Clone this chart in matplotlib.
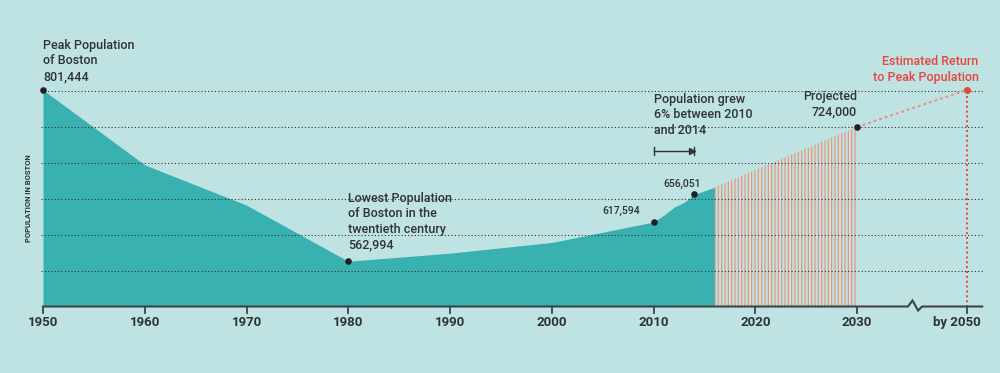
import numpy as np
import matplotlib.pyplot as plt

# population history (census + estimates)
years = [1950, 1960, 1970, 1980, 1990, 2000, 2010, 2011, 2012, 2013, 2014, 2015, 2016]
population = [801444, 697197, 641071, 562994, 574283, 589141, 617594, 627000, 638000,
              645000, 656051, 661000, 666000]

# projection segment (start of projection, projected 2030 as drawn)
proj_years = [2016, 2030]
proj_values = [666000, 750000]

# "by 2050" sits on a broken axis, drawn at this x position
x_2050 = 2040.77
peak_value = 801444

tick_years = [1950, 1960, 1970, 1980, 1990, 2000, 2010, 2020, 2030]
tick_labels = ['1950', '1960', '1970', '1980', '1990', '2000', '2010', '2020', '2030']
grid_values = [550000, 600000, 650000, 700000, 750000, 800000]

bg = '#BFE2E3'
teal = '#39B1B0'
orange = '#EE8E72'
red = '#E8463C'
dark = '#2E3333'

plt.rcParams['font.family'] = 'Roboto'
plt.rcParams['hatch.linewidth'] = 0.8

fig = plt.figure(figsize=(10, 3.73), dpi=100, facecolor=bg)
ax = fig.add_axes([0, 0, 1, 1])
ax.set_facecolor(bg)
ax.set_xlim(1945.774, 2044.05)
ax.set_ylim(407425, 926681)
ax.axis('off')

base = 500000

# historic area
ax.fill_between(years, population, base, color=teal, lw=0, zorder=2)

# projected area as vertical hatch lines
ax.fill_between(proj_years, proj_values, base, facecolor='none', edgecolor=orange,
                hatch='|||||', lw=0, zorder=2)

# gridlines
for g in grid_values:
    ax.plot([1949.8, 2042.4], [g, g], color=dark, lw=0.8, ls=(0, (1, 2)), zorder=3)

# projection to peak
ax.plot([proj_years[-1], x_2050], [proj_values[-1], peak_value], color=orange, lw=1.4,
        ls=(0, (1.5, 1.5)), zorder=4)
ax.plot([x_2050, x_2050], [base, peak_value], color=red, lw=1.4, ls=(0, (1, 1.5)), zorder=4)

# baseline with a break
px = 1392.1  # value per pixel
ax.plot([1950, 2035.0, 2035.45, 2036.0, 2036.4, 2042.3],
        [base, base, base + 6 * px, base - 4 * px, base, base],
        color='#3E4444', lw=1.5, zorder=5, solid_joinstyle='miter')
for t in tick_years + [x_2050]:
    ax.plot([t, t], [base, base - 6 * px], color='#3E4444', lw=1.3, zorder=5)
for t, lab in zip(tick_years, tick_labels):
    ax.text(t, base - 16 * px, lab, ha='center', va='center', fontsize=9.5,
            fontweight='bold', color=dark)
ax.text(x_2050 - 1.0, base - 16 * px, 'by 2050', ha='center', va='center', fontsize=9.5,
        fontweight='bold', color=dark)

# points
pts_x = [1950, 1980, 2010, 2014, 2030]
pts_y = [population[0], population[3], population[6], population[10], proj_values[-1]]
ax.scatter(pts_x, pts_y, s=14, color='#1E2222', zorder=6)
ax.scatter([x_2050], [peak_value], s=16, color=red, zorder=6)

# annotations
kw = dict(textcoords='offset pixels', fontsize=9, color=dark, linespacing=1.25,
          fontweight='medium')
ax.annotate('Peak Population\nof Boston\n801,444', xy=(1950, peak_value), xytext=(0, 7),
            ha='left', va='bottom', **kw)
ax.annotate('Lowest Population\nof Boston in the\ntwentieth century\n562,994',
            xy=(1980, population[3]), xytext=(0, 10), ha='left', va='bottom', **kw)
ax.annotate('Projected\n724,000', xy=(2030, proj_values[-1]), xytext=(0, 8),
            ha='right', va='bottom', **kw)
ax.annotate('Estimated Return\nto Peak Population', xy=(x_2050, peak_value), xytext=(12, 6),
            ha='right', va='bottom', textcoords='offset pixels', fontsize=9, color=red,
            linespacing=1.25, fontweight='medium')
ax.annotate('617,594', xy=(2010, population[6]), xytext=(-14, 6), ha='right', va='bottom',
            textcoords='offset pixels', fontsize=7.5, color=dark, fontweight='medium')
ax.annotate('656,051', xy=(2014, population[10]), xytext=(-12, 5), ha='center', va='bottom',
            textcoords='offset pixels', fontsize=7.5, color=dark, fontweight='medium')
ax.text(2010, 926681 - 93 * px, 'Population grew\n6% between 2010\nand 2014', ha='left',
        va='top', fontsize=9, color=dark, linespacing=1.25, fontweight='medium')

# 2010-2014 bracket
yb = 926681 - 151 * px
ax.plot([2010, 2014], [yb, yb], color=dark, lw=1.0, zorder=5)
ax.plot([2010, 2010], [yb - 4 * px, yb + 4 * px], color=dark, lw=1.0)
ax.plot([2014, 2014], [yb - 4 * px, yb + 4 * px], color=dark, lw=1.0)
ax.plot([2013.75], [yb], marker='>', ms=4, color=dark)

fig.text(0.029, 0.47, 'POPULATION IN BOSTON', rotation=90, ha='center', va='center',
         fontsize=5.5, fontweight='bold', color=dark)

fig.savefig('out.png', dpi=100, facecolor=bg)
